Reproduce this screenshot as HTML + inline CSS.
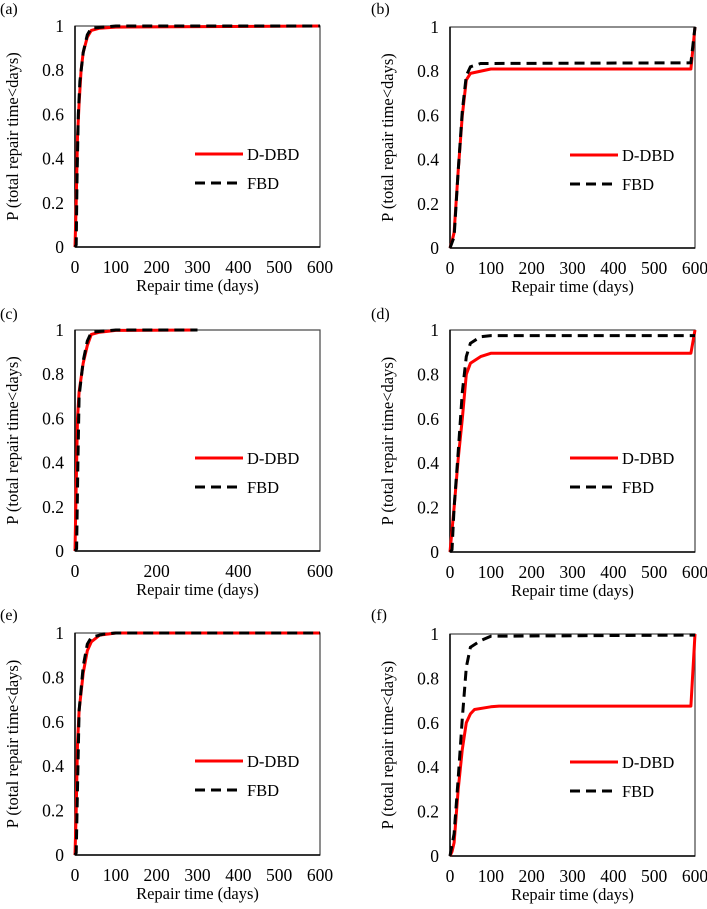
<!DOCTYPE html>
<html><head><meta charset="utf-8">
<style>
html,body{margin:0;padding:0;background:#fff;}
svg{display:block;font-family:"Liberation Serif",serif;}
</style></head>
<body>
<svg id="fig" width="707" height="909" viewBox="0 0 707 909" xmlns="http://www.w3.org/2000/svg"></svg>
<script>
const xTicksFull = [0,100,200,300,400,500,600];
const xTicksC = [0,200,400,600];
const yTicks = [0,0.2,0.4,0.6,0.8,1];
const yTickLabels = ["0","0.2","0.4","0.6","0.8","1"];
const panelLabels = ["(a)","(b)","(c)","(d)","(e)","(f)"];

const aX_ddbd = [0,3,6,10,15,20,30,40,60,100,600];
const aY_ddbd = [0,0.2,0.5,0.65,0.8,0.88,0.95,0.98,0.99,0.995,1];
const aX_fbd = [0,3,5,8,12,20,30,40,100,600];
const aY_fbd = [0,0.01,0.3,0.6,0.75,0.88,0.96,0.99,1,1];

const bX_ddbd = [0,5,10,20,30,40,50,100,590,600];
const bY_ddbd = [0,0.03,0.07,0.35,0.6,0.76,0.79,0.81,0.81,1];
const bX_fbd = [0,10,20,30,40,50,75,590,600];
const bY_fbd = [0,0.05,0.35,0.62,0.78,0.82,0.835,0.838,1];

const cX_ddbd = [0,3,6,10,20,30,40,60,100,300];
const cY_ddbd = [0,0.3,0.6,0.72,0.85,0.93,0.98,0.99,0.998,1];
const cX_fbd = [0,4,7,10,20,30,40,100,300];
const cY_fbd = [0,0.01,0.4,0.7,0.86,0.95,0.99,1,1];

const dX_ddbd = [0,10,20,30,40,50,75,100,590,600];
const dY_ddbd = [0,0.2,0.42,0.6,0.8,0.85,0.88,0.895,0.895,1];
const dX_fbd = [0,5,10,20,30,40,50,75,100,600];
const dY_fbd = [0,0.01,0.2,0.45,0.72,0.88,0.94,0.97,0.975,0.975];

const eX_ddbd = [0,3,6,10,20,30,40,60,100,600];
const eY_ddbd = [0,0.2,0.5,0.65,0.82,0.92,0.96,0.99,1,1];
const eX_fbd = [0,3,6,10,20,30,40,70,100,600];
const eY_fbd = [0,0.01,0.3,0.65,0.85,0.95,0.98,0.995,1,1];

const fX_ddbd = [0,5,10,20,30,40,50,60,100,120,590,600];
const fY_ddbd = [0,0.02,0.06,0.3,0.48,0.6,0.64,0.66,0.672,0.675,0.675,1];
const fX_fbd = [0,5,10,20,30,40,50,75,100,600];
const fY_fbd = [0,0.05,0.1,0.35,0.62,0.85,0.94,0.97,0.99,0.995];

const panels = [
 {L:75,R:320,T:26,B:247,lx:0,ly:14,ticks:xTicksFull,xd:aX_ddbd,yd:aY_ddbd,xf:aX_fbd,yf:aY_fbd},
 {L:450,R:695,T:27,B:248,lx:371,ly:14,ticks:xTicksFull,xd:bX_ddbd,yd:bY_ddbd,xf:bX_fbd,yf:bY_fbd},
 {L:75,R:320,T:330,B:551,lx:0,ly:319,ticks:xTicksC,xd:cX_ddbd,yd:cY_ddbd,xf:cX_fbd,yf:cY_fbd},
 {L:450,R:695,T:330,B:552,lx:371,ly:319,ticks:xTicksFull,xd:dX_ddbd,yd:dY_ddbd,xf:dX_fbd,yf:dY_fbd},
 {L:75,R:320,T:633,B:855,lx:0,ly:620,ticks:xTicksFull,xd:eX_ddbd,yd:eY_ddbd,xf:eX_fbd,yf:eY_fbd},
 {L:450,R:695,T:634,B:856,lx:371,ly:620,ticks:xTicksFull,xd:fX_ddbd,yd:fY_ddbd,xf:fX_fbd,yf:fY_fbd}
];
const NS="http://www.w3.org/2000/svg";
const svg=document.getElementById('fig');
function mk(tag,attrs,parent,text){const e=document.createElementNS(NS,tag);for(const k in attrs)e.setAttribute(k,attrs[k]);if(text!==undefined)e.textContent=text;parent.appendChild(e);return e;}

panels.forEach((p,i)=>{
  const g=mk('g',{},svg);
  
  
  const sx=v=>p.L+(v/600)*(p.R-p.L);
  const sy=v=>p.B-v*(p.B-p.T);
  const lab=mk('text',{x:p.lx,y:p.ly,'font-size':16},g,panelLabels[i]);
  
  
  const frame=mk('rect',{x:p.L,y:p.T,width:p.R-p.L,height:p.B-p.T,fill:'none',stroke:'#444','stroke-width':1.2},g);
  
  
  mk('line',{x1:p.L,y1:p.T,x2:p.L,y2:p.B,stroke:'#000','stroke-width':1.5},g);
  mk('line',{x1:p.L,y1:p.B,x2:p.R,y2:p.B,stroke:'#000','stroke-width':1.5},g);
  yTicks.forEach((v,k)=>{
    const t=mk('text',{x:p.L-11,y:sy(v)+6,'font-size':17.5,'text-anchor':'end'},g,yTickLabels[k]);
    
    
  });
  p.ticks.forEach(v=>{
    const t=mk('text',{x:sx(v),y:p.B+26,'font-size':17.5,'text-anchor':'middle'},g,String(v));
    
    
  });
  const xt=mk('text',{x:(p.L+p.R)/2,y:p.B+44,'font-size':16.5,'text-anchor':'middle'},g,'Repair time (days)');
  
  
  const cy=(p.T+p.B)/2, tx=p.L-62;
  const yt=mk('text',{x:tx,y:cy,'font-size':16.5,'text-anchor':'middle',transform:`rotate(-90 ${tx} ${cy})`,dy:5},g,'P (total repair time<days)');
  
  
  const pts=(xs,ys)=>xs.map((x,k)=>sx(x).toFixed(1)+','+sy(ys[k]).toFixed(1)).join(' ');
  const red=mk('polyline',{points:pts(p.xd,p.yd),fill:'none',stroke:'#ff0000','stroke-width':3,'stroke-linejoin':'round'},g);
  
  
  const blk=mk('polyline',{points:pts(p.xf,p.yf),fill:'none',stroke:'#000','stroke-width':3,'stroke-dasharray':'10,6'},g);
  
  
  const lx=p.L+120, ly1=p.T+128, ly2=p.T+157;
  const lg=mk('g',{},g);
  
  
  mk('line',{x1:lx,y1:ly1,x2:lx+48,y2:ly1,stroke:'#ff0000','stroke-width':3},lg);
  mk('text',{x:lx+52,y:ly1+6,'font-size':16.5},lg,'D-DBD');
  mk('line',{x1:lx,y1:ly2,x2:lx+48,y2:ly2,stroke:'#000','stroke-width':3,'stroke-dasharray':'10,6'},lg);
  mk('text',{x:lx+52,y:ly2+6,'font-size':16.5},lg,'FBD');
});
</script>
</body></html>
